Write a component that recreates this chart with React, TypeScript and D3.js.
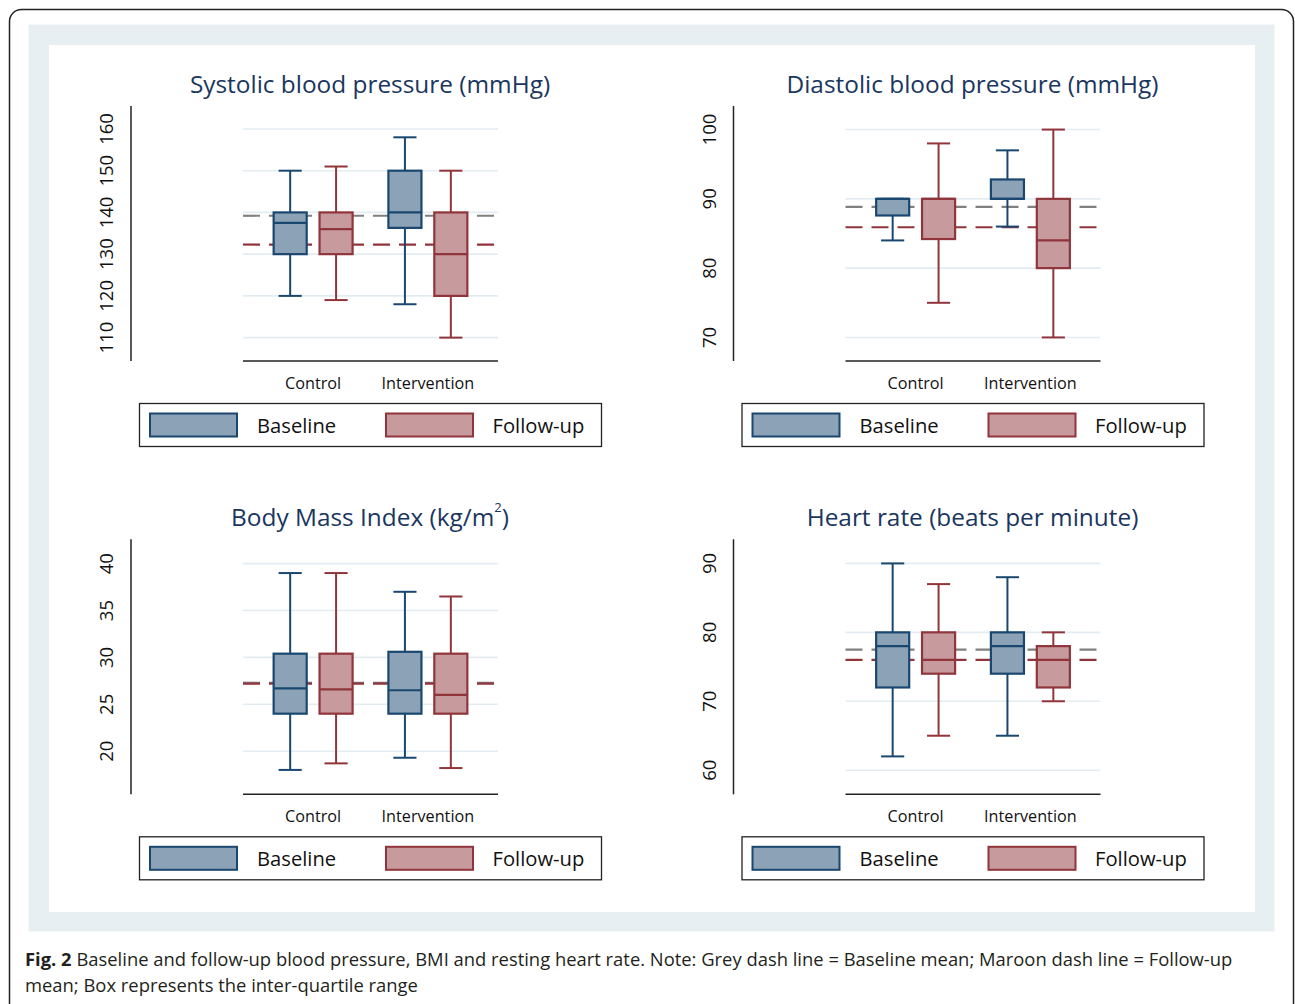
import React from 'react';
import * as d3 from 'd3';

const groups = ['Control', 'Intervention'];
const seriesNames = ['Baseline', 'Follow-up'];

// each box: [lower whisker, Q1, median, Q3, upper whisker], one per group
const sbpBaseline = [[120, 130, 137.5, 140, 150], [118, 136.3, 140, 150, 158]];
const sbpFollowup = [[119, 130, 136, 140, 151], [110, 120, 130, 140, 150]];
const sbpMeans = [139.2, 132.3];
const sbpTicks = [110, 120, 130, 140, 150, 160];
const sbpRange = [104.4, 165.5];

const dbpBaseline = [[84, 87.6, 90, 90, 90], [86, 90, 90, 92.8, 97]];
const dbpFollowup = [[75, 84.2, 90, 90, 98], [70, 80, 84, 90, 100]];
const dbpMeans = [88.85, 85.9];
const dbpTicks = [70, 80, 90, 100];
const dbpRange = [66.6, 103.4];

const bmiBaseline = [[18, 24, 26.7, 30.4, 39], [19.3, 24, 26.5, 30.6, 37]];
const bmiFollowup = [[18.7, 24, 26.6, 30.4, 39], [18.2, 24, 26, 30.4, 36.5]];
const bmiMeans = [27.3, 27.2];
const bmiTicks = [20, 25, 30, 35, 40];
const bmiRange = [15.4, 42.6];

const hrBaseline = [[62, 72, 78, 80, 90], [65, 74, 78, 80, 88]];
const hrFollowup = [[65, 74, 76, 80, 87], [70, 72, 76, 78, 80]];
const hrMeans = [77.5, 76];
const hrTicks = [60, 70, 80, 90];
const hrRange = [56.5, 93.5];

const FONT = '"Open Sans", "DejaVu Sans", sans-serif';
const NAVY = '#1a476f';
const MAROON = '#90353b';
const NAVY_FILL = '#8ca3b7';
const MAROON_FILL = '#c79a9d';
const GRID = '#e3edf1';
const TITLE = '#1a365f';

const lineColors = [NAVY, MAROON];
const fillColors = [NAVY_FILL, MAROON_FILL];
const meanColors = ['#808080', MAROON];

type PanelProps = {
  title: React.ReactNode;
  baseline: number[][];
  followup: number[][];
  means: number[];
  ticks: number[];
  range: number[];
  dx: number;
  dy: number;
};

function Panel({ title, baseline, followup, means, ticks, range, dx, dy }: PanelProps) {
  const y = d3.scaleLinear().domain(range).range([361, 106]);
  const x = d3.scaleBand().domain(groups).range([243, 498]).paddingInner(0.2).paddingOuter(0.211);
  const xs = d3.scaleBand().domain(seriesNames).range([0, x.bandwidth()]).paddingInner(0.28).paddingOuter(0.14);
  const bw = xs.bandwidth();
  const cap = bw * 0.7;
  const [x0, x1] = x.range();
  const series = [baseline, followup];

  return (
    <g transform={`translate(${dx},${dy})`} fontFamily={FONT}>
      <text x={370} y={93} textAnchor="middle" fontSize={24.4} fill={TITLE}>{title}</text>

      {ticks.map(t => (
        <line key={'g' + t} x1={x0} x2={x1} y1={y(t)} y2={y(t)} stroke={GRID} strokeWidth={1.6} />
      ))}
      <line x1={131} x2={131} y1={y(range[0])} y2={y(range[1])} stroke="#222" strokeWidth={1.5} />
      {ticks.map(t => (
        <text key={'t' + t} transform={`translate(113,${y(t)}) rotate(-90)`} textAnchor="middle"
          fontSize={18.5} fill="#111">{t}</text>
      ))}
      <line x1={x0} x2={x1} y1={y(range[0])} y2={y(range[0])} stroke="#222" strokeWidth={1.5} />

      {means.map((m, i) => (
        <line key={'m' + i} x1={x0} x2={x1} y1={y(m)} y2={y(m)} stroke={meanColors[i]}
          strokeWidth={2.2} strokeDasharray="17 9" />
      ))}

      {groups.map((g, gi) => (
        <g key={g}>
          {seriesNames.map((s, si) => {
            const [lo, q1, med, q3, hi] = series[si][gi];
            const cx = (x(g) as number) + (xs(s) as number) + bw / 2;
            const c = lineColors[si];
            return (
              <g key={s} stroke={c} strokeWidth={2}>
                <line x1={cx} x2={cx} y1={y(q1)} y2={y(lo)} />
                <line x1={cx} x2={cx} y1={y(q3)} y2={y(hi)} />
                <line x1={cx - cap / 2} x2={cx + cap / 2} y1={y(lo)} y2={y(lo)} />
                <line x1={cx - cap / 2} x2={cx + cap / 2} y1={y(hi)} y2={y(hi)} />
                <rect x={cx - bw / 2} y={y(q3)} width={bw} height={y(q1) - y(q3)} fill={fillColors[si]} strokeWidth={2.2} />
                <line x1={cx - bw / 2} x2={cx + bw / 2} y1={y(med)} y2={y(med)} strokeWidth={2.2} />
              </g>
            );
          })}
          <text x={(x(g) as number) + x.bandwidth() / 2} y={389} textAnchor="middle" fontSize={16.2} fill="#111">{g}</text>
        </g>
      ))}

      <rect x={139.5} y={403.5} width={462} height={43} fill="white" stroke="#222" strokeWidth={1.3} />
      {seriesNames.map((s, si) => (
        <g key={'l' + s}>
          <rect x={150 + si * 236} y={413.5} width={87} height={23} fill={fillColors[si]} stroke={lineColors[si]} strokeWidth={2} />
          <text x={257 + si * 235.5} y={433} fontSize={20.2} fill="#111">{s}</text>
        </g>
      ))}
    </g>
  );
}

export default function App() {
  return (
    <div style={{ position: 'absolute', left: 0, top: 0 }}>
      <svg width={1295} height={1004} viewBox="0 0 1295 1004" style={{ display: 'block', background: 'white' }}>
        <rect x={9.5} y={9.5} width={1284} height={1010} rx={12} fill="white" stroke="#222" strokeWidth={1.5} />
        <rect x={28.5} y={24.5} width={1246} height={907} fill="#e8eff2" />
        <rect x={49} y={45} width={1206} height={867} fill="white" />

        <Panel title="Systolic blood pressure (mmHg)" baseline={sbpBaseline} followup={sbpFollowup}
          means={sbpMeans} ticks={sbpTicks} range={sbpRange} dx={0} dy={0} />
        <Panel title="Diastolic blood pressure (mmHg)" baseline={dbpBaseline} followup={dbpFollowup}
          means={dbpMeans} ticks={dbpTicks} range={dbpRange} dx={602.5} dy={0} />
        <Panel title={<>Body Mass Index (kg/m<tspan fontSize={13} dy={-14}>2</tspan><tspan dy={14}>)</tspan></>}
          baseline={bmiBaseline} followup={bmiFollowup}
          means={bmiMeans} ticks={bmiTicks} range={bmiRange} dx={0} dy={433.3} />
        <Panel title="Heart rate (beats per minute)" baseline={hrBaseline} followup={hrFollowup}
          means={hrMeans} ticks={hrTicks} range={hrRange} dx={602.5} dy={433.3} />

        <g fontFamily={FONT} fontSize={18.4} fill="#231f20">
          <text x={25} y={966}>
            <tspan fontWeight="bold">Fig. 2</tspan> Baseline and follow-up blood pressure, BMI and resting heart rate. Note: Grey dash line = Baseline mean; Maroon dash line = Follow-up
          </text>
          <text x={25} y={992}>mean; Box represents the inter-quartile range</text>
        </g>
      </svg>
    </div>
  );
}
